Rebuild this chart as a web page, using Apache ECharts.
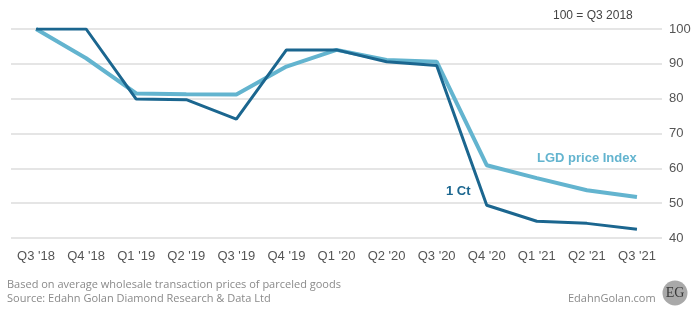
<!DOCTYPE html>
<html><head><meta charset="utf-8">
<script src="https://cdn.jsdelivr.net/npm/echarts@6/dist/echarts.min.js"></script>
<style>html,body{margin:0;padding:0;background:#fff}#c{width:700px;height:336px}</style>
</head><body><div id="c"></div>
<script>
const categories = ["Q3 '18","Q4 '18","Q1 '19","Q2 '19","Q3 '19","Q4 '19","Q1 '20","Q2 '20","Q3 '20","Q4 '20","Q1 '21","Q2 '21","Q3 '21"];
const lgdIndex = [100, 91.6, 81.5, 81.3, 81.2, 89.2, 94, 91.1, 90.6, 60.9, 57.2, 53.7, 51.8];
const oneCt = [100, 100, 79.9, 79.7, 74.1, 94, 94, 90.6, 89.5, 49.4, 44.8, 44.2, 42.5];
const yTicks = [40, 50, 60, 70, 80, 90, 100];

const chart = echarts.init(document.getElementById('c'), null, {renderer:'canvas'});
chart.setOption({
  animation:false,
  backgroundColor:'#fff',
  grid:{left:11, right:38, top:29, bottom:98},
  xAxis:{type:'category', data:categories, boundaryGap:true,
    axisLine:{show:false}, axisTick:{show:false},
    axisLabel:{color:'#555', fontFamily:'Liberation Sans, Arial', fontSize:13, margin:12, interval:0}},
  yAxis:{type:'value', position:'right', min:yTicks[0], max:yTicks[yTicks.length-1], interval:10,
    axisLine:{show:false}, axisTick:{show:false},
    axisLabel:{color:'#555', fontFamily:'Liberation Sans, Arial', fontSize:13, margin:7},
    splitLine:{lineStyle:{color:'#dcdcdc', width:1.5}}},
  series:[
    {name:'LGD price Index', type:'line', data:lgdIndex, symbol:'none',
      lineStyle:{color:'#63b4cf', width:4}, z:2},
    {name:'1 Ct', type:'line', data:oneCt, symbol:'none',
      lineStyle:{color:'#1b668f', width:3}, z:3}
  ],
  graphic:[
    {type:'text', left:553, top:10, style:{text:'100 = Q3 2018', fill:'#444', font:'12px Liberation Sans, Arial'}},
    {type:'text', left:537, top:152, style:{text:'LGD price Index', fill:'#63b4cf', font:'bold 13px Liberation Sans, Arial'}},
    {type:'text', left:446, top:185, style:{text:'1 Ct', fill:'#1b668f', font:'bold 13px Liberation Sans, Arial'}},
    {type:'text', left:7, top:279, style:{text:'Based on average wholesale transaction prices of parceled goods', fill:'#8a8a8a', font:'11px Open Sans, Noto Sans'}},
    {type:'text', left:7, top:293, style:{text:'Source: Edahn Golan Diamond Research & Data Ltd', fill:'#8a8a8a', font:'11px Open Sans, Noto Sans'}},
    {type:'text', left:568, top:293, style:{text:'EdahnGolan.com', fill:'#8a8a8a', font:'11px Open Sans, Noto Sans'}},
    {type:'circle', shape:{cx:675, cy:293, r:12.5}, style:{fill:'#a9a9a9'}},
    {type:'text', x:675, y:293, style:{text:'EG', fill:'#3a3a3a', font:'14px Liberation Serif, DejaVu Serif', align:'center', verticalAlign:'middle'}}
  ]
});
</script></body></html>
